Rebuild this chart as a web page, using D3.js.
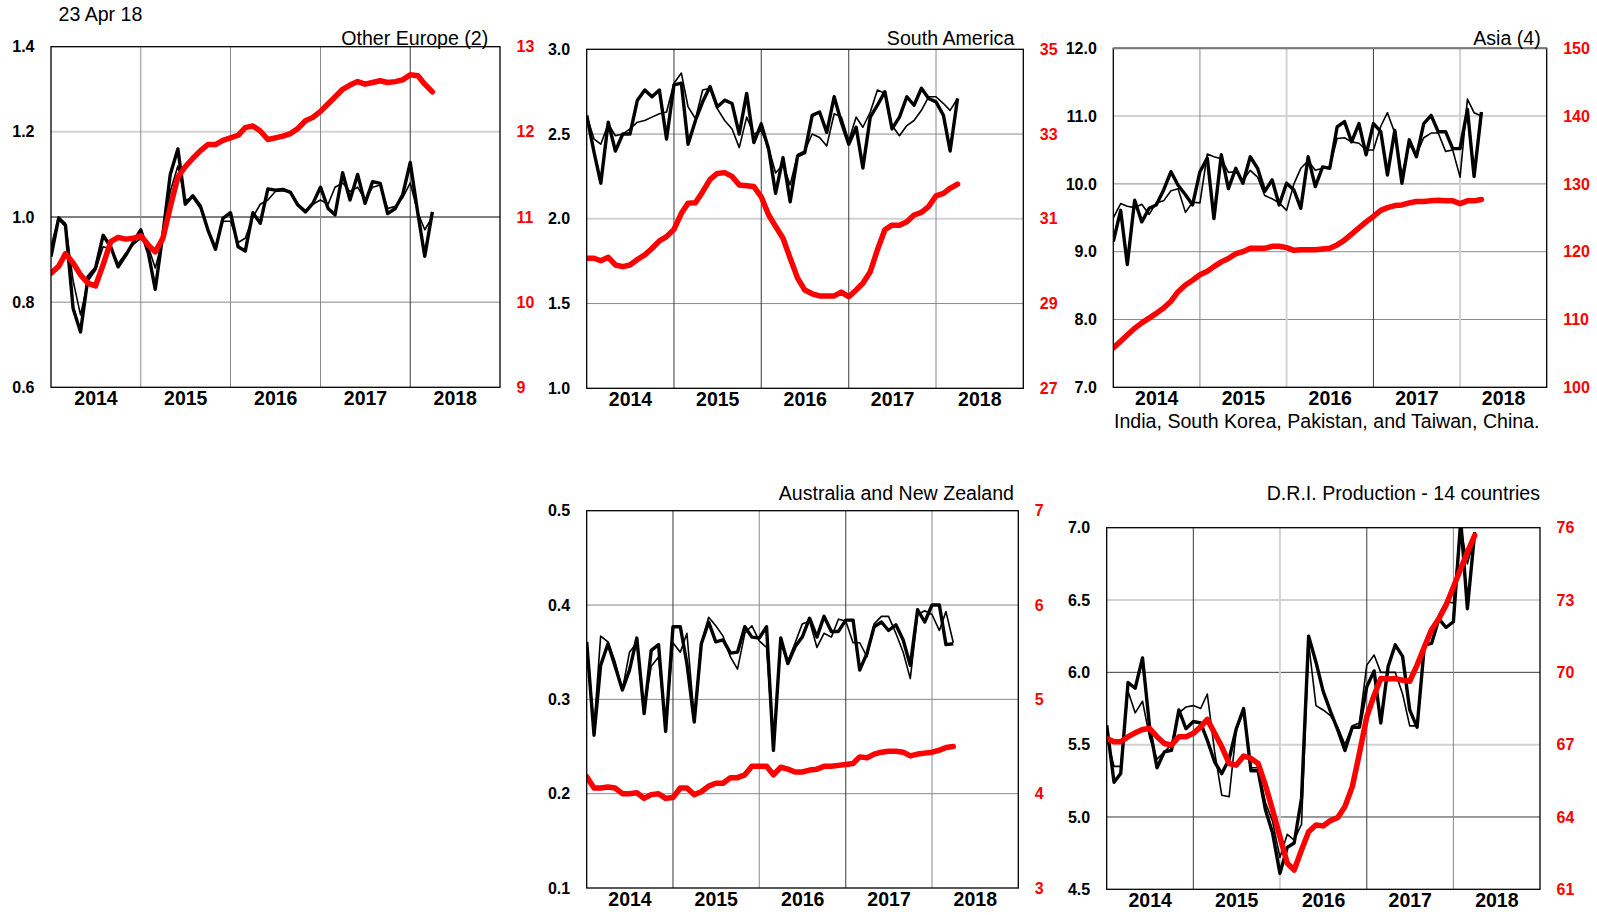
<!DOCTYPE html>
<html><head><meta charset="utf-8">
<script src="https://cdn.jsdelivr.net/npm/d3@7"></script>
<style>body{margin:0;background:#fff}svg{display:block}</style>
</head><body><svg id="c" width="1597" height="915"></svg>
<script>
const dateStamp = "23 Apr 18";
const yearLabels = ["2014","2015","2016","2017","2018"];
const asiaNote = "India, South Korea, Pakistan, and Taiwan, China.";

// Other Europe (2)
const oeMonthly = [0.907,0.997,0.98,0.785,0.73,0.86,0.88,0.957,0.93,0.883,0.91,0.94,0.97,0.915,0.83,0.96,1.10,1.16,1.03,1.05,1.025,0.97,0.924,0.997,1.01,0.93,0.92,1.01,0.985,1.066,1.063,1.065,1.058,1.028,1.012,1.032,1.07,1.02,1.005,1.104,1.04,1.10,1.032,1.083,1.079,1.008,1.02,1.052,1.128,1.008,0.908,1.012];
const oeThin = [0.93,1.0,0.985,0.85,0.77,0.85,0.875,0.93,0.925,0.89,0.915,0.935,0.95,0.93,0.88,0.95,1.06,1.12,1.04,1.045,1.02,0.97,0.93,0.99,0.99,0.94,0.95,1.00,1.03,1.04,1.06,1.062,1.058,1.03,1.015,1.03,1.04,1.03,1.07,1.08,1.06,1.07,1.04,1.07,1.075,1.02,1.025,1.045,1.08,1.01,0.97,1.0];
const oeAnnual = [10.34,10.42,10.57,10.46,10.32,10.22,10.19,10.44,10.71,10.76,10.74,10.75,10.78,10.67,10.59,10.75,11.12,11.47,11.59,11.69,11.78,11.85,11.85,11.90,11.93,11.96,12.05,12.07,12.01,11.91,11.93,11.95,11.98,12.04,12.13,12.17,12.24,12.33,12.41,12.50,12.55,12.59,12.56,12.58,12.60,12.58,12.59,12.61,12.67,12.66,12.56,12.47];

// South America
const saMonthly = [2.61,2.39,2.21,2.57,2.40,2.50,2.50,2.70,2.76,2.72,2.76,2.47,2.79,2.80,2.44,2.58,2.69,2.78,2.66,2.70,2.68,2.50,2.74,2.45,2.56,2.41,2.15,2.36,2.10,2.37,2.39,2.61,2.63,2.51,2.72,2.57,2.44,2.54,2.30,2.60,2.67,2.75,2.53,2.60,2.72,2.67,2.77,2.71,2.69,2.61,2.40,2.71];
const saThin = [2.61,2.47,2.44,2.56,2.49,2.50,2.53,2.57,2.58,2.60,2.62,2.63,2.80,2.86,2.66,2.59,2.76,2.77,2.65,2.58,2.53,2.42,2.60,2.50,2.52,2.42,2.27,2.32,2.20,2.38,2.40,2.50,2.48,2.43,2.62,2.60,2.46,2.60,2.54,2.63,2.76,2.74,2.55,2.49,2.55,2.58,2.64,2.72,2.72,2.68,2.64,2.71];
const saAnnual = [30.07,30.07,30.01,30.09,29.91,29.87,29.91,30.04,30.15,30.30,30.48,30.58,30.75,31.13,31.37,31.38,31.64,31.93,32.07,32.09,32.00,31.80,31.78,31.76,31.52,31.09,30.82,30.54,30.07,29.60,29.32,29.23,29.18,29.18,29.18,29.27,29.16,29.32,29.48,29.75,30.27,30.74,30.85,30.85,30.93,31.09,31.15,31.29,31.54,31.60,31.72,31.82];

// Asia (4)
const asMonthly = [9.15,9.61,8.81,9.76,9.44,9.64,9.69,9.91,10.18,9.98,9.84,9.69,10.18,10.38,9.49,10.43,9.93,10.23,10.01,10.40,10.23,9.89,10.06,9.69,10.01,9.91,9.64,10.40,9.96,10.25,10.23,10.84,10.92,10.62,10.89,10.43,10.89,10.77,10.13,10.79,10.01,10.65,10.40,10.89,11.01,10.77,10.77,10.52,10.52,11.10,10.11,11.06];
const asThin = [9.50,9.71,9.67,9.65,9.70,9.55,9.72,9.75,9.90,9.93,9.58,9.73,9.72,10.44,10.40,10.37,10.17,10.18,10.05,10.20,10.10,9.83,9.78,9.72,9.61,10.00,10.23,10.34,10.20,10.23,10.25,10.67,10.68,10.62,10.60,10.50,10.50,10.85,11.05,10.75,10.13,10.58,10.43,10.68,10.75,10.75,10.48,10.50,10.10,11.25,11.05,11.00];
const asAnnual = [105.8,106.8,107.7,108.7,109.5,110.2,110.9,111.7,112.7,114.1,115.1,115.8,116.6,117.1,117.8,118.5,119.0,119.7,120.0,120.5,120.5,120.5,120.8,120.8,120.6,120.2,120.3,120.3,120.3,120.4,120.5,121.0,121.7,122.6,123.5,124.4,125.2,126.1,126.5,126.8,126.9,127.2,127.4,127.4,127.5,127.6,127.5,127.5,127.1,127.5,127.5,127.7];

// Australia and New Zealand
const anMonthly = [0.361,0.262,0.336,0.359,0.335,0.310,0.331,0.365,0.285,0.352,0.358,0.266,0.377,0.377,0.338,0.276,0.359,0.382,0.361,0.363,0.349,0.350,0.377,0.366,0.365,0.377,0.246,0.365,0.338,0.356,0.366,0.386,0.366,0.388,0.372,0.372,0.384,0.384,0.331,0.349,0.377,0.382,0.373,0.379,0.363,0.336,0.395,0.382,0.400,0.400,0.358,0.359];
const anThin = [0.36,0.27,0.367,0.361,0.34,0.31,0.35,0.36,0.29,0.335,0.345,0.27,0.36,0.35,0.37,0.28,0.36,0.387,0.378,0.367,0.345,0.332,0.37,0.378,0.362,0.355,0.25,0.36,0.34,0.36,0.38,0.383,0.355,0.37,0.366,0.385,0.383,0.36,0.36,0.345,0.38,0.388,0.388,0.37,0.35,0.322,0.39,0.394,0.39,0.373,0.393,0.36];
const anAnnual = [4.18,4.06,4.06,4.07,4.06,4.00,4.00,4.01,3.95,3.99,4.00,3.95,3.96,4.06,4.06,3.99,4.02,4.08,4.11,4.11,4.17,4.17,4.20,4.29,4.29,4.29,4.20,4.28,4.26,4.23,4.23,4.25,4.26,4.29,4.29,4.30,4.31,4.32,4.39,4.38,4.42,4.44,4.45,4.45,4.44,4.40,4.42,4.43,4.44,4.46,4.49,4.50];

// D.R.I. Production - 14 countries
const drMonthly = [5.635,5.24,5.30,5.93,5.89,6.10,5.62,5.34,5.45,5.46,5.74,5.61,5.66,5.65,5.53,5.38,5.30,5.40,5.61,5.75,5.32,5.32,5.05,4.89,4.61,4.79,4.82,5.13,6.25,6.07,5.87,5.73,5.60,5.46,5.62,5.62,5.90,6.01,5.65,6.04,6.19,6.11,5.74,5.62,6.19,6.20,6.37,6.31,6.35,7.05,6.44,6.97];
const drThin = [5.55,5.35,5.35,5.87,5.72,5.80,5.55,5.40,5.45,5.50,5.72,5.76,5.77,5.75,5.85,5.45,5.15,5.14,5.60,5.73,5.34,5.34,5.10,4.97,4.72,4.88,4.84,4.95,6.20,5.77,5.74,5.70,5.62,5.50,5.63,5.65,6.05,6.12,6.00,6.00,6.00,5.85,5.63,5.63,6.18,6.20,6.40,6.49,6.48,7.0,6.75,6.95];
const drAnnual = [67.26,67.12,67.12,67.33,67.49,67.63,67.67,67.33,67.05,66.98,67.33,67.33,67.47,67.74,68.05,67.47,66.91,66.22,66.15,66.53,66.43,66.22,65.32,64.29,63.18,62.08,61.80,62.63,63.39,63.67,63.63,63.85,63.98,64.43,65.26,66.64,68.16,69.05,69.74,69.72,69.74,69.67,69.63,70.30,71.06,71.77,72.23,72.78,73.54,74.30,74.99,75.68];

const GS = {
  mid:   {c:"#8a8a8a", w:1},
  light: {c:"#d2d2d2", w:2},
  black: {c:"#000", w:1},
  dark:  {c:"#3a3a3a", w:1}
};

const panels = [
  {title:"Other Europe (2)", box:[51,46.7,500,387.3], titleX:488.3, titleY:45,
   left:[0.6,1.4], lstep:0.2, right:[9,13], rstep:1,
   thick:oeMonthly, thin:oeThin, red:oeAnnual, topStroke:"#000",
   h:{"1.2":"light","1.0":"black"}, v:{"2015":"mid","2016":"mid","2017":"mid","2018":"dark"}},
  {title:"South America", box:[586.7,49.3,1023.3,388.3], titleX:1014.3, titleY:45,
   left:[1.0,3.0], lstep:0.5, right:[27,35], rstep:2,
   thick:saMonthly, thin:saThin, red:saAnnual, topStroke:"#000",
   h:{"2.0":"light"}, v:{"2015":"dark","2016":"dark","2017":"dark","2018":"mid"}},
  {title:"Asia (4)", box:[1113.3,48.3,1546.7,387.3], titleX:1540.7, titleY:45,
   left:[7.0,12.0], lstep:1.0, right:[100,150], rstep:10,
   thick:asMonthly, thin:asThin, red:asAnnual, topStroke:"#7a7a7a",
   h:{"11.0":"light"}, v:{"2015":"mid","2016":"light","2017":"dark","2018":"light"}},
  {title:"Australia and New Zealand", box:[586.7,510.7,1018.3,888], titleX:1014, titleY:500,
   left:[0.1,0.5], lstep:0.1, right:[3,7], rstep:1,
   thick:anMonthly, thin:anThin, red:anAnnual, topStroke:"#000",
   h:{}, v:{"2015":"dark","2016":"mid","2017":"dark","2018":"mid"}},
  {title:"D.R.I. Production - 14 countries", box:[1106.7,527.7,1540,889.3], titleX:1540, titleY:500,
   left:[4.5,7.0], lstep:0.5, right:[61,76], rstep:3,
   thick:drMonthly, thin:drThin, red:drAnnual, topStroke:"#000",
   h:{"6.5":"light","5.5":"light","6.0":"dark","5.0":"dark"}, v:{"2015":"dark","2016":"light","2017":"dark","2018":"mid"}}
];

const svg = d3.select("#c");
svg.append("rect").attr("width",1597).attr("height",915).attr("fill","#fff");
const txtFont = "'Liberation Sans', Arial, sans-serif";
const titleSize = 19.6;

svg.append("text").attr("x",58.5).attr("y",20.7).attr("font-family",txtFont).attr("font-size",titleSize).attr("fill","#000").text(dateStamp);

const t0 = new Date(+yearLabels[0],0,1), t1 = new Date(+yearLabels[yearLabels.length-1]+1,0,1);
const monthDate = i => new Date(+yearLabels[0], i, 1);

panels.forEach((p, k) => {
  const [L,T,R,B] = p.box;
  const g = svg.append("g");
  const x = d3.scaleTime().domain([t0,t1]).range([L,R]);
  const yL = d3.scaleLinear().domain(p.left).range([B,T]);
  const yR = d3.scaleLinear().domain(p.right).range([B,T]);
  const lt = d3.range(p.left[0], p.left[1]+p.lstep/2, p.lstep);
  const rt = d3.range(p.right[0], p.right[1]+p.rstep/2, p.rstep);

  lt.slice(1,-1).forEach(v => {
    const s = GS[p.h[v.toFixed(1)] || "mid"];
    g.append("line").attr("x1",L).attr("x2",R).attr("y1",yL(v)).attr("y2",yL(v))
      .attr("stroke",s.c).attr("stroke-width",s.w);
  });
  yearLabels.slice(1).forEach(yr => {
    const s = GS[p.v[yr] || "mid"];
    const xv = x(new Date(+yr,0,1));
    g.append("line").attr("x1",xv).attr("x2",xv).attr("y1",T).attr("y2",B)
      .attr("stroke",s.c).attr("stroke-width",s.w);
  });

  const cid = "clip"+k;
  svg.append("clipPath").attr("id",cid).append("rect").attr("x",L).attr("y",T).attr("width",R-L).attr("height",B-T);
  const lg = g.append("g").attr("clip-path",`url(#${cid})`);
  const lineL = d3.line().x((d,i)=>x(monthDate(i))).y(d=>yL(d));
  const lineR = d3.line().x((d,i)=>x(monthDate(i))).y(d=>yR(d));
  lg.append("path").attr("d",lineL(p.thin)).attr("fill","none").attr("stroke","#000").attr("stroke-width",1.6).attr("stroke-linejoin","round");
  lg.append("path").attr("d",lineL(p.thick)).attr("fill","none").attr("stroke","#000").attr("stroke-width",3.4).attr("stroke-linejoin","round");
  lg.append("path").attr("d",lineR(p.red)).attr("fill","none").attr("stroke","#ff0000").attr("stroke-width",5.5).attr("stroke-linejoin","round").attr("stroke-linecap","round");

  g.append("rect").attr("x",L).attr("y",T).attr("width",R-L).attr("height",B-T)
    .attr("fill","none").attr("stroke","#000").attr("stroke-width",1.3);
  if (p.topStroke !== "#000") {
    g.append("line").attr("x1",L).attr("x2",R).attr("y1",T).attr("y2",T).attr("stroke",p.topStroke).attr("stroke-width",2);
  }

  const ax = g.append("g").attr("transform",`translate(${L},0)`)
    .call(d3.axisLeft(yL).tickValues(lt).tickSize(0).tickPadding(16.5).tickFormat(d3.format(".1f")));
  ax.select(".domain").remove();
  ax.selectAll("text").attr("font-family",txtFont).attr("font-weight","bold").attr("font-size",16).attr("fill","#000");

  const axr = g.append("g").attr("transform",`translate(${R},0)`)
    .call(d3.axisRight(yR).tickValues(rt).tickSize(0).tickPadding(16.5).tickFormat(d3.format("d")));
  axr.select(".domain").remove();
  axr.selectAll("text").attr("font-family",txtFont).attr("font-weight","bold").attr("font-size",16).attr("fill","#ff0000");

  const axb = g.append("g").attr("transform",`translate(0,${B})`)
    .call(d3.axisBottom(x).tickValues(yearLabels.map(yr=>new Date(+yr,6,1))).tickSize(0).tickFormat((d,i)=>yearLabels[i]));
  axb.select(".domain").remove();
  axb.selectAll("text").attr("y",17.5).attr("dy",null).attr("font-family",txtFont).attr("font-weight","bold").attr("font-size",19.5).attr("fill","#000");

  g.append("text").attr("x",p.titleX).attr("y",p.titleY).attr("text-anchor","end")
    .attr("font-family",txtFont).attr("font-size",titleSize).attr("fill","#000").text(p.title);
});

svg.append("text").attr("x",1114).attr("y",428.3).attr("font-family",txtFont).attr("font-size",titleSize).attr("fill","#000").text(asiaNote);
</script>
</body></html>
